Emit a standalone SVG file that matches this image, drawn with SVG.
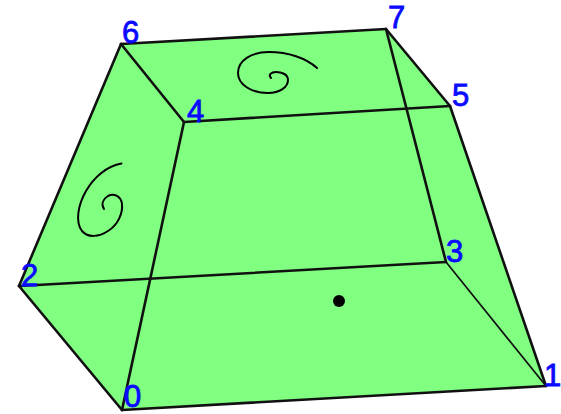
<svg xmlns="http://www.w3.org/2000/svg" width="561" height="414" viewBox="0 0 561 414">
<style>
.face{fill:#80ff80;stroke:none}
.e{fill:none;stroke:#111;stroke-width:2.6;stroke-linecap:round}
.s{fill:none;stroke:#000;stroke-width:2;stroke-linecap:round;stroke-linejoin:round}
.l{font-family:"Liberation Sans",Arial,sans-serif;font-size:31px;fill:#0a0aff;stroke:#0a0aff;stroke-width:.8}
</style>
<rect width="561" height="414" fill="#fff"/>
<polygon id="body" class="face" points="121,44 386,29 450,106 546,386 122,410 19,286"/>
<g id="connectors">
<path class="e" d="M121,44L386,29"/>
<path class="e" d="M386,29L450,106"/>
<path class="e" d="M450,106L546,386"/>
<path class="e" d="M546,386L122,410"/>
<path class="e" d="M122,410L19,286"/>
<path class="e" d="M19,286L121,44"/>
<path class="e" d="M121,44L184,122"/>
<path class="e" d="M184,122L450,106"/>
<path class="e" d="M184,122L122,410"/>
<path class="e" d="M386,29L446,262"/>
<path class="e" d="M446,262L19,286"/>
<path class="e" style="stroke-width:1.7" d="M446,262L546,386"/>
</g>
<path id="spiral-left" class="s" d="M121.5,163.5C107,166 94,177 86,191C78,205 75,222 82,231C88,238 99,237 108,231C118,225 123,213 122,204C121,196 114,193 108,196C103,199 101,204 104,209"/>
<path id="spiral-top" class="s" d="M317,68C306,58 288,52 269,52C252,52 238,60 238,73C238,85 252,93 268,93C280,93 288,87 288,80C288,74 281,72 276,72C271,72 268,75 271,78"/>
<circle id="dot" cx="339" cy="301" r="6" fill="#000"/>
<g id="n0"><text class="l" x="124" y="407">0</text></g>
<g id="n1"><text class="l" x="544" y="386">1</text></g>
<g id="n2"><text class="l" x="21" y="286">2</text></g>
<g id="n3"><text class="l" x="446" y="262">3</text></g>
<g id="n4"><text class="l" x="187" y="122">4</text></g>
<g id="n5"><text class="l" x="452" y="106">5</text></g>
<g id="n6"><text class="l" x="122" y="43">6</text></g>
<g id="n7"><text class="l" x="388" y="28">7</text></g>
</svg>
